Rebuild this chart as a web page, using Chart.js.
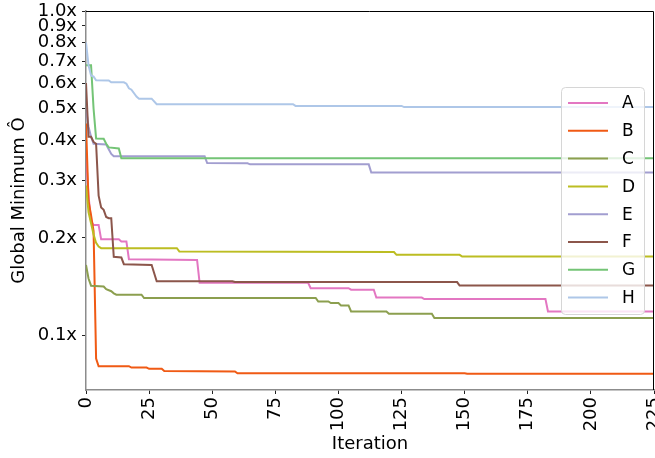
<!DOCTYPE html>
<html>
<head>
<meta charset="utf-8">
<script src="https://cdn.jsdelivr.net/npm/chart.js@4.4.1/dist/chart.umd.min.js"></script>
<style>
  body { margin: 0; background: #fff; }
  #wrap { width: 655px; height: 458px; }
</style>
</head>
<body>
<div id="wrap"><canvas id="myChart"></canvas></div>
<script>
// series names and colours
const names = ["A", "B", "C", "D", "E", "F", "G", "H"];
const colors = ["#e377c2", "#f05a14", "#8c9f4f", "#bcbd22", "#a29ed0", "#8c564b", "#74c476", "#aec7e8"];

// iteration / value pairs (only where the curve changes)
const itA = [0, 1, 2, 3, 5, 6, 13, 14, 16, 17, 44, 45, 88, 89, 104, 105, 114, 115, 133, 134, 182, 183, 225];
const valA = [0.36, 0.27, 0.225, 0.219, 0.219, 0.198, 0.198, 0.195, 0.195, 0.172, 0.171, 0.1455, 0.1455, 0.14, 0.14, 0.1385, 0.1385, 0.131, 0.131, 0.1296, 0.1296, 0.1187, 0.1187];

const itB = [0, 1, 2, 3, 4, 5, 17, 18, 24, 25, 30, 31, 59, 60, 150, 151, 225];
const valB = [0.45, 0.26, 0.235, 0.21, 0.085, 0.0805, 0.0805, 0.0797, 0.0797, 0.079, 0.079, 0.0778, 0.0776, 0.0766, 0.0766, 0.0763, 0.0763];

const itC = [0, 1, 2, 7, 8, 10, 11, 12, 22, 23, 91, 92, 96, 97, 100, 101, 104, 105, 119, 120, 137, 138, 225];
const valC = [0.165, 0.15, 0.1425, 0.1417, 0.139, 0.137, 0.135, 0.1337, 0.1337, 0.1306, 0.1306, 0.1274, 0.1274, 0.126, 0.126, 0.1239, 0.1239, 0.1187, 0.1187, 0.1168, 0.1168, 0.1133, 0.1133];

const itD = [0, 1, 2, 3, 4, 5, 6, 36, 37, 122, 123, 148, 149, 225];
const valD = [0.29, 0.24, 0.222, 0.205, 0.193, 0.188, 0.186, 0.186, 0.1815, 0.181, 0.1774, 0.1774, 0.1752, 0.1752];

const itE = [0, 1, 2, 3, 8, 9, 10, 11, 47, 48, 64, 65, 112, 113, 225];
const valE = [0.5, 0.44, 0.41, 0.39, 0.388, 0.375, 0.363, 0.357, 0.357, 0.34, 0.3395, 0.337, 0.337, 0.318, 0.318];

const itF = [0, 1, 2, 3, 4, 5, 6, 7, 8, 9, 10, 11, 14, 15, 26, 28, 58, 59, 147, 148, 225];
const valF = [0.6, 0.41, 0.41, 0.395, 0.39, 0.27, 0.248, 0.244, 0.232, 0.23, 0.23, 0.175, 0.174, 0.166, 0.165, 0.147, 0.147, 0.1462, 0.1462, 0.1426, 0.1426];

const itG = [0, 2, 3, 4, 7, 8, 9, 13, 14, 225];
const valG = [0.68, 0.68, 0.5, 0.405, 0.404, 0.39, 0.38, 0.377, 0.352, 0.352];

const itH = [0, 1, 2, 3, 4, 9, 10, 15, 16, 17, 18, 20, 21, 26, 28, 82, 83, 125, 126, 225];
const valH = [0.8, 0.68, 0.633, 0.628, 0.612, 0.611, 0.603, 0.603, 0.597, 0.578, 0.572, 0.545, 0.537, 0.537, 0.516, 0.516, 0.51, 0.51, 0.506, 0.506];

const xTicks = [0, 25, 50, 75, 100, 125, 150, 175, 200, 225];
const yTicks = [0.1, 0.2, 0.3, 0.4, 0.5, 0.6, 0.7, 0.8, 0.9, 1.0];

const allIts = [itA, itB, itC, itD, itE, itF, itG, itH];
const allVals = [valA, valB, valC, valD, valE, valF, valG, valH];

Chart.defaults.font.family = "'DejaVu Sans', sans-serif";
Chart.defaults.font.size = 18;
Chart.defaults.color = "#000";

const datasets = names.map((name, i) => ({
  label: name,
  data: allIts[i].map((x, j) => ({ x: x, y: allVals[i][j] })),
  borderColor: colors[i],
  backgroundColor: colors[i],
  borderWidth: 2,
  pointRadius: 0,
  tension: 0,
  fill: false,
  order: names.length - i,
}));

// top / right spines and the legend box inside the plot
const extras = {
  id: "extras",
  afterDatasetsDraw(chart) {
    const ctx = chart.ctx;
    const area = chart.chartArea;
    ctx.save();
    ctx.strokeStyle = "#000";
    ctx.lineWidth = 1;
    ctx.beginPath();
    ctx.moveTo(area.left, area.top + 0.5);
    ctx.lineTo(area.right - 0.5, area.top + 0.5);
    ctx.lineTo(area.right - 0.5, area.bottom);
    ctx.stroke();

    const boxW = 83, boxH = 227;
    const bx = area.right - 10 - boxW;
    const by = 87;
    ctx.beginPath();
    ctx.roundRect(bx + 0.5, by + 0.5, boxW, boxH, 4);
    ctx.fillStyle = "rgba(255,255,255,0.8)";
    ctx.fill();
    ctx.strokeStyle = "#d6d6d6";
    ctx.stroke();

    ctx.font = "17px 'DejaVu Sans'";
    ctx.textBaseline = "middle";
    ctx.textAlign = "left";
    chart.data.datasets.forEach((ds, i) => {
      const ry = by + 16 + i * 27.8;
      ctx.strokeStyle = ds.borderColor;
      ctx.lineWidth = 2;
      ctx.beginPath();
      ctx.moveTo(bx + 7, ry);
      ctx.lineTo(bx + 47, ry);
      ctx.stroke();
      ctx.fillStyle = "#000";
      ctx.fillText(ds.label, bx + 61, ry + 1);
    });
    ctx.restore();
  },
};

new Chart(document.querySelector("#myChart"), {
  type: "line",
  data: { datasets: datasets },
  plugins: [extras],
  options: {
    responsive: true,
    maintainAspectRatio: false,
    animation: false,
    layout: { padding: { top: 11, right: 1, left: 0, bottom: 0 } },
    plugins: { legend: { display: false }, tooltip: { enabled: false } },
    scales: {
      x: {
        type: "linear",
        min: 0,
        max: 225,
        afterBuildTicks: (s) => { s.ticks = xTicks.map((v) => ({ value: v })); },
        afterFit: (s) => { s.height = 68; s.paddingLeft = 0; s.paddingRight = 0; },
        ticks: { autoSkip: false, minRotation: 90, maxRotation: 90, padding: 3 },
        grid: { drawOnChartArea: false, drawTicks: true, tickLength: 4, color: "#222" },
        border: { color: "#8c8c8c", width: 1.5 },
        title: { display: true, text: "Iteration", padding: { top: 0, bottom: 3 } },
      },
      y: {
        type: "logarithmic",
        min: 0.068,
        max: 1.0,
        afterBuildTicks: (s) => { s.ticks = yTicks.map((v) => ({ value: v })); },
        afterFit: (s) => { s.width = 86; s.paddingTop = 0; s.paddingBottom = 0; },
        ticks: { padding: 5, callback: (v) => Number(v).toFixed(1) + "x" },
        grid: { drawOnChartArea: false, drawTicks: true, tickLength: 4, color: "#222" },
        border: { color: "#8c8c8c", width: 1.5 },
        title: { display: true, text: "Global Minimum Ô", padding: { top: 9, bottom: 0 } },
      },
    },
  },
});
</script>
</body>
</html>
